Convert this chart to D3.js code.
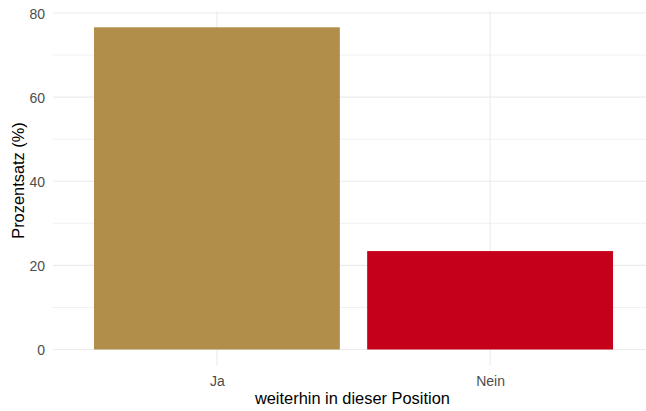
<!DOCTYPE html>
<html>
<head>
<meta charset="utf-8">
<script src="https://cdn.jsdelivr.net/npm/d3@7"></script>
<style>
  body { margin: 0; background: #fff; }
  text { font-family: "Liberation Sans", Arial, sans-serif; }
</style>
</head>
<body>
<svg id="chart" width="646" height="411"></svg>
<script>
const categories = ["Ja", "Nein"];
const percentages = [76.6, 23.4];
const barColors = ["#B18E4A", "#C5001A"];
const yTicks = [0, 20, 40, 60, 80];
const yMinorTicks = [10, 30, 50, 70];

const svg = d3.select("#chart");
const area = { left: 53, top: 11.2, right: 654, bottom: 365.6 };

// ggplot-like expansion: 5% on continuous axis, 0.6 units on discrete
const maxVal = d3.max(percentages);
const scY = d3.scaleLinear()
  .domain([-0.05 * maxVal, maxVal * 1.05])
  .range([area.bottom, area.top]);

const n = categories.length;
const step = (area.right - area.left) / (n - 1 + 1.2);
const scX = d3.scalePoint()
  .domain(categories)
  .range([area.left + 0.6 * step, area.right - 0.6 * step]);
const barW = 0.9 * step;

const grid = svg.append("g");
grid.selectAll(".minor")
  .data(yMinorTicks)
  .enter()
  .append("line")
  .attr("x1", area.left).attr("x2", area.right)
  .attr("y1", d => scY(d)).attr("y2", d => scY(d))
  .style("stroke", "#F0F0F0").style("stroke-width", 1);
grid.selectAll(".major")
  .data(yTicks)
  .enter()
  .append("line")
  .attr("x1", area.left).attr("x2", area.right)
  .attr("y1", d => scY(d)).attr("y2", d => scY(d))
  .style("stroke", "#EBEBEB").style("stroke-width", 1.1);
grid.selectAll(".vmajor")
  .data(categories)
  .enter()
  .append("line")
  .attr("x1", d => scX(d)).attr("x2", d => scX(d))
  .attr("y1", area.top).attr("y2", area.bottom)
  .style("stroke", "#EBEBEB").style("stroke-width", 1.1);

svg.append("g")
  .selectAll("rect")
  .data(categories)
  .enter()
  .append("rect")
  .attr("x", d => scX(d) - barW / 2)
  .attr("width", barW)
  .attr("y", (d, i) => scY(percentages[i]))
  .attr("height", (d, i) => scY(0) - scY(percentages[i]))
  .style("fill", (d, i) => barColors[i]);

// axes without lines, only labels
const axisY = d3.axisLeft(scY).tickValues(yTicks).tickSize(0).tickPadding(0);
const gy = svg.append("g")
  .attr("transform", `translate(${area.left - 8}, 0)`)
  .call(axisY);
gy.select(".domain").remove();
gy.selectAll("text")
  .style("font-size", "14px")
  .style("fill", "#4D4D4D")
  .attr("dy", "0.36em");

const axisX = d3.axisBottom(scX).tickSize(0).tickPadding(0);
const gx = svg.append("g")
  .attr("transform", `translate(0, 386)`)
  .call(axisX);
gx.select(".domain").remove();
gx.selectAll("text")
  .attr("y", 0)
  .attr("dy", 0)
  .style("font-size", "14px")
  .style("fill", "#4D4D4D");

svg.append("text")
  .attr("x", 352.4)
  .attr("y", 404)
  .attr("text-anchor", "middle")
  .style("font-size", "16.4px")
  .style("fill", "#000")
  .text("weiterhin in dieser Position");

svg.append("text")
  .attr("transform", `translate(24, 180.5) rotate(-90)`)
  .attr("text-anchor", "middle")
  .style("font-size", "16.4px")
  .style("fill", "#000")
  .text("Prozentsatz (%)");
</script>
</body>
</html>
